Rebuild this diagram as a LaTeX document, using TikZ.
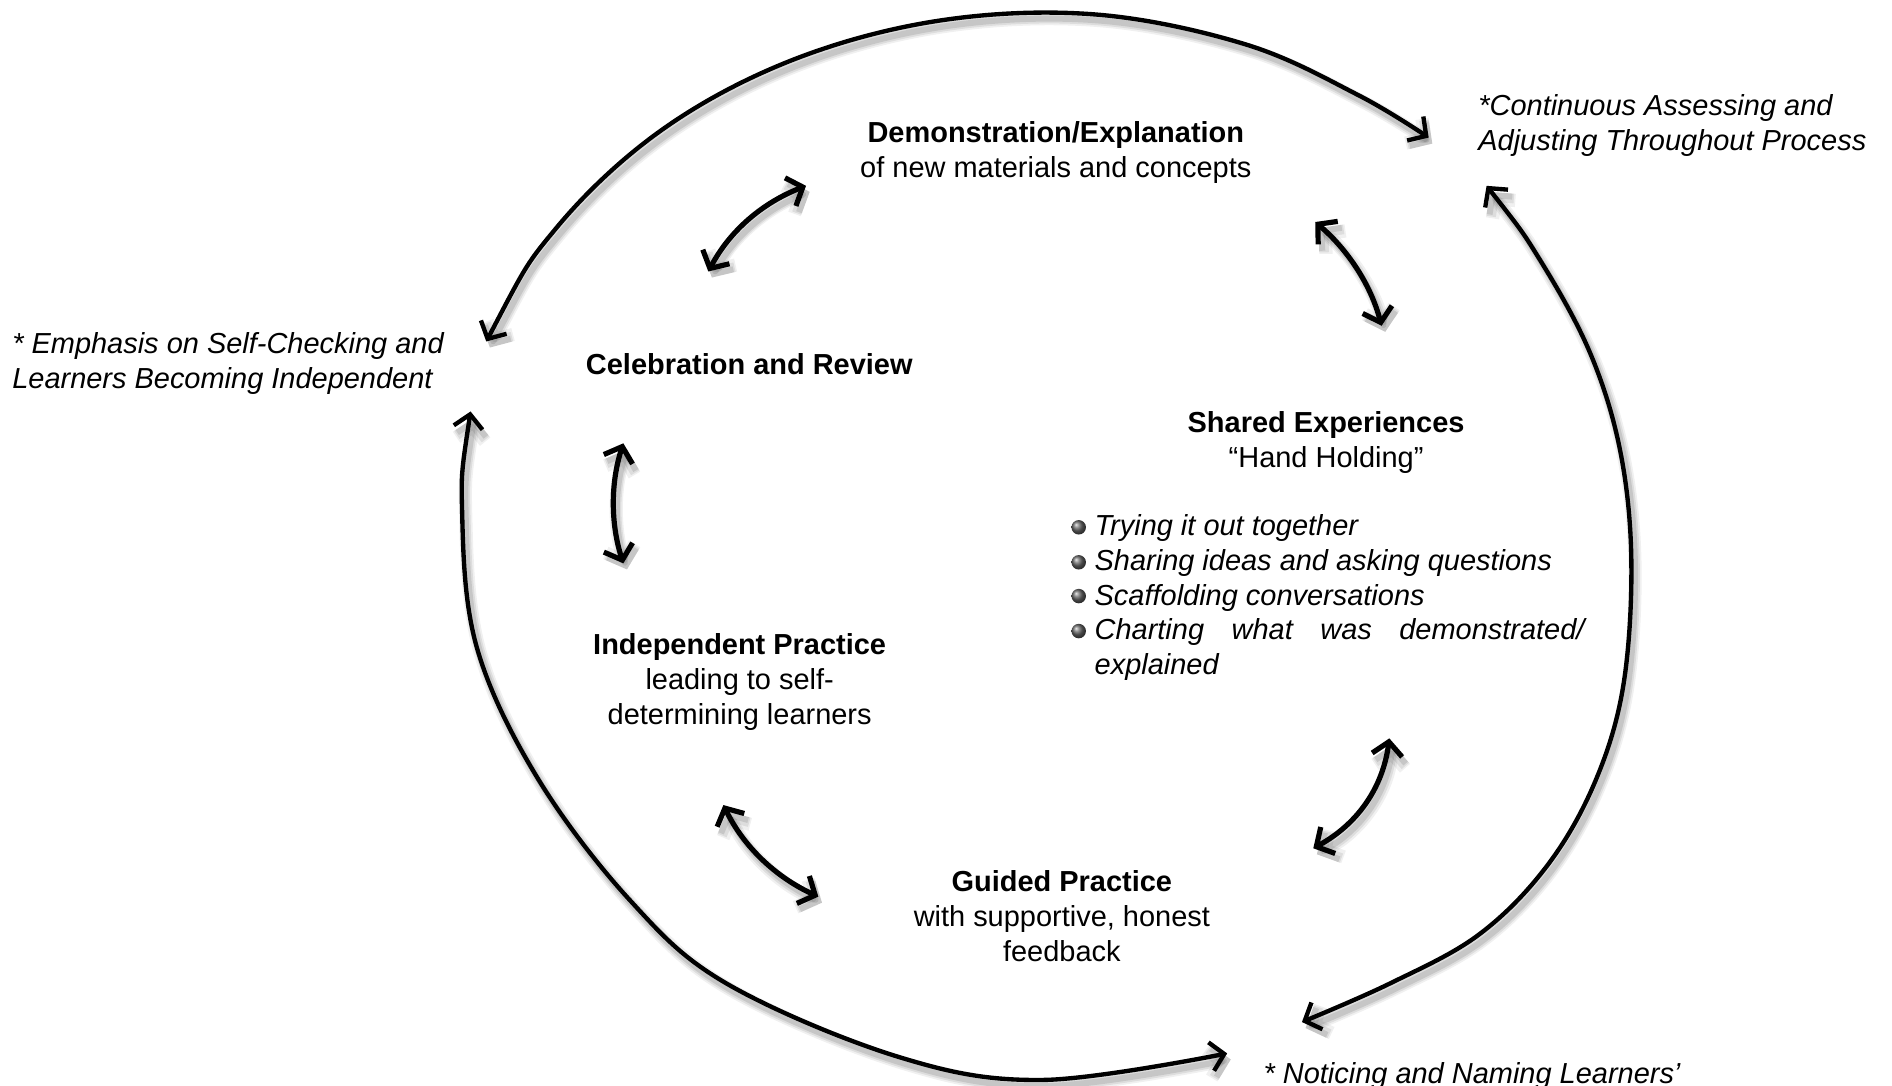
\documentclass[tikz,border=0pt]{standalone}
\usepackage{fontspec}
\setmainfont{Liberation Sans}
\usetikzlibrary{arrows.meta}
\newcommand\shdraw[2]{%
  \begin{scope}[transform canvas={shift={(3pt,-5pt)}}]
    \draw[#1, draw=black, draw opacity=.06, line width=11pt] #2;
    \draw[#1, draw=black, draw opacity=.08, line width=8pt] #2;
    \draw[#1, draw=black, draw opacity=.10, line width=5pt] #2;
  \end{scope}
  \draw[#1] #2;}
\begin{document}
\begin{tikzpicture}[x=1pt,y=-1pt,
  txt/.style={inner sep=0pt, font=\fontsize{24}{29}\selectfont, align=center},
  ital/.style={inner sep=0pt, font=\fontsize{24}{29}\selectfont\itshape, align=left},
  bigarc/.style={line width=3.6pt, line cap=round, line join=round, >={Straight Barb[length=11pt,width=24pt]}, <->},
  smallarr/.style={line width=4.3pt, line cap=round, line join=round, >={Straight Barb[length=11pt,width=25pt]}, <->},
  bullet/.style={ball color=black!60}
]
\useasboundingbox (0,0) rectangle (1568,900);
\clip (0,0) rectangle (1568,900);
\fill[white] (0,0) rectangle (1568,900);

% text nodes
\node[txt, anchor=north] (demo) at (875,100.5) {\textbf{Demonstration/Explanation}\\of new materials and concepts};
\node[ital, anchor=north west] (cont) at (1225,78.5) {*Continuous Assessing and\\Adjusting Throughout Process};
\node[ital, anchor=north west] (emph) at (10,275.5) {* Emphasis on Self-Checking and\\Learners Becoming Independent};
\node[txt, anchor=base] (celeb) at (621,310) {\textbf{Celebration and Review}};
\node[txt, anchor=north] (shared) at (1099,340.5) {\textbf{Shared Experiences}\\“Hand Holding”};
\node[ital, anchor=north west, font=\fontsize{24}{28.75}\selectfont\itshape] (list) at (907,426.5)
  {Trying it out together\\Sharing ideas and asking questions\\Scaffolding conversations\\
   \hbox to 406pt{Charting\hfill what\hfill was\hfill demonstrated/}\\explained};
\node[txt, anchor=north] (indep) at (613,524.5) {\textbf{Independent Practice}\\leading to self-\\determining learners};
\node[txt, anchor=north] (guided) at (880,721.5) {\textbf{Guided Practice}\\with supportive, honest\\feedback};
\node[ital, anchor=base west] (notic) at (1047,898) {* Noticing and Naming Learners’};

% bullets
\foreach \yy in {437,466,494,523} {\shade[bullet] (894,\yy) circle (6);}

% end points
\coordinate (tA) at (403,283);
\coordinate (tB) at (1184,114);
\coordinate (rA) at (1232,154);
\coordinate (rB) at (1079,847);
\coordinate (lA) at (390,341);
\coordinate (lB) at (1017,873);

\coordinate (a1s) at (587,225);   \coordinate (a1e) at (668,154);
\coordinate (a2s) at (1090,184);  \coordinate (a2e) at (1145,270);
\coordinate (a3s) at (516.6,367.4); \coordinate (a3e) at (516.6,466.9);
\coordinate (a4s) at (1151.4,611.9); \coordinate (a4e) at (1088.4,703);
\coordinate (a5s) at (599.5,667.2); \coordinate (a5e) at (678.2,743.1);

% big arcs
\shdraw{bigarc}{plot[smooth, tension=0.6] coordinates {(tA) (461,189) (548,108) (656,50) (779,17) (908,12) (1033,37) (1126,79) (tB)}}
\shdraw{bigarc}{plot[smooth, tension=0.6] coordinates {(rA) (1276,215) (1318,293) (1343,375) (1352,467) (1345,570) (1321,650) (1281,719) (1225,775) (1152,815) (rB)}}
\shdraw{bigarc}{plot[smooth, tension=0.6] coordinates {(lA) (383,425) (395,536) (445,644) (522,746) (602,815) (745,876) (864,895) (lB)}}

% small arrows
\shdraw{smallarr}{(a1s) .. controls (605,191) and (632,168) .. (a1e)}
\shdraw{smallarr}{(a2s) .. controls (1117,207) and (1136,236) .. (a2e)}
\shdraw{smallarr}{(a3s) .. controls (506,400) and (506,434) .. (a3e)}
\shdraw{smallarr}{(a4s) .. controls (1146,653) and (1125,683) .. (a4e)}
\shdraw{smallarr}{(a5s) .. controls (616.5,702) and (643,727) .. (a5e)}
\end{tikzpicture}
\end{document}
